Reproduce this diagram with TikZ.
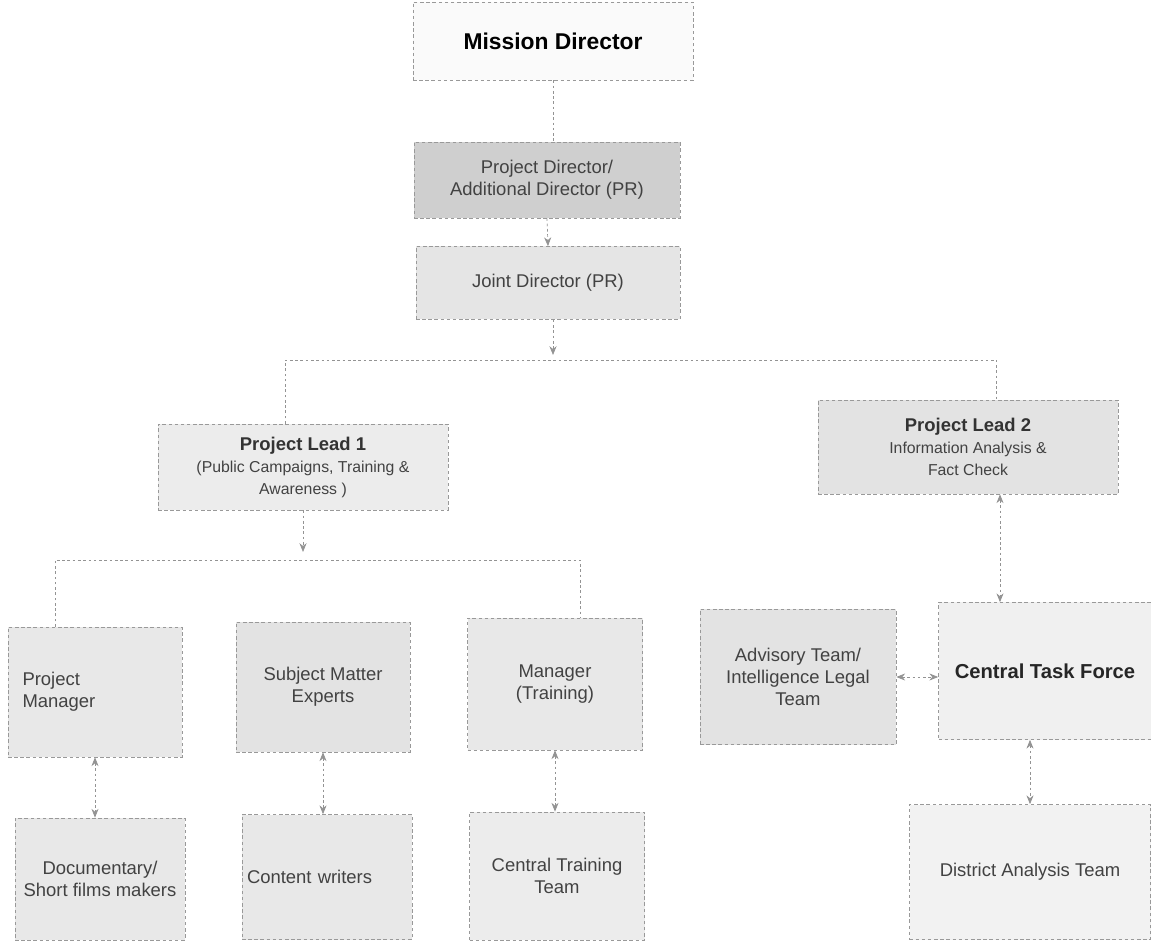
\documentclass[tikz,border=0pt]{standalone}
\usepackage{fontspec}
\setmainfont{Liberation Sans}
\usetikzlibrary{arrows.meta}
\definecolor{inkgray}{HTML}{424242}
\newcommand\subline{\fontsize{9}{11}\selectfont}
\tikzset{
 orgbox/.style={draw=gray!80, dash pattern=on 2pt off 1.5pt, fill=gray!18, align=center, text=inkgray, font=\fontsize{10.5}{12.5}\selectfont, inner sep=2pt},
 link/.style={draw=gray!85, dash pattern=on 1.5pt off 1.5pt, thin},
 tip/.style={-{Stealth[length=5pt,width=4pt]}},
 bitip/.style={{Stealth[length=5pt,width=4pt]}-{Stealth[length=5pt,width=4pt]}},
}
\begin{document}
\begin{tikzpicture}
 \useasboundingbox (0,0) rectangle (23.02,-18.94);

 % top of the chart
 \node[orgbox, fill=gray!4, minimum width=5.6cm, minimum height=1.56cm, text=black, font=\bfseries\fontsize{13}{15}\selectfont] (mission) at (11.06,-0.82) {Mission Director};
 \node[orgbox, fill=gray!38, minimum width=5.32cm, minimum height=1.52cm] (projdir) at (10.94,-3.6) {Project Director/\\Additional Director (PR)};
 \node[orgbox, fill=gray!20, minimum width=5.28cm, minimum height=1.46cm] (jointdir) at (10.96,-5.66) {Joint Director (PR)};

 % the two leads
 \node[orgbox, fill=gray!15, minimum width=5.8cm, minimum height=1.72cm] (lead1) at (6.06,-9.34) {{\bfseries\color{black!80}Project Lead 1}\\{\subline (Public Campaigns, Training \&}\\{\subline Awareness )}};
 \node[orgbox, fill=gray!22, minimum width=6cm, minimum height=1.88cm] (lead2) at (19.36,-8.94) {{\bfseries\color{black!80}Project Lead 2}\\{\subline Information Analysis \&}\\{\subline Fact Check}};

 % teams under lead 1
 \node[orgbox, minimum width=3.48cm, minimum height=2.6cm, text width=2.9cm, align=left] (pm) at (1.9,-13.84) {Project\\Manager};
 \node[orgbox, fill=gray!22, minimum width=3.48cm, minimum height=2.6cm] (sme) at (6.46,-13.74) {Subject Matter\\Experts};
 \node[orgbox, minimum width=3.5cm, minimum height=2.64cm] (mtrain) at (11.1,-13.68) {Manager\\(Training)};
 \node[orgbox, minimum width=3.4cm, minimum height=2.44cm] (docu) at (2.0,-17.58) {Documentary/\\Short films makers};
 \node[orgbox, minimum width=3.4cm, minimum height=2.5cm, text width=3.2cm, align=left] (cwrite) at (6.54,-17.54) {Content writers};
 \node[orgbox, fill=gray!15, minimum width=3.5cm, minimum height=2.56cm] (cttrain) at (11.14,-17.52) {Central Training\\Team};

 % teams under lead 2
 \node[orgbox, fill=gray!22, minimum width=3.92cm, minimum height=2.7cm] (advis) at (15.96,-13.54) {Advisory Team/\\Intelligence Legal\\Team};
 \node[orgbox, fill=gray!12, minimum width=4.26cm, minimum height=2.74cm, text=black!85, font=\bfseries\fontsize{11.5}{13.5}\selectfont] (ctf) at (20.9,-13.42) {Central Task Force};
 \node[orgbox, fill=gray!10, minimum width=4.82cm, minimum height=2.7cm] (district) at (20.6,-17.44) {District Analysis Team};

 % connectors
 \coordinate (busL) at (5.7,-7.2);
 \coordinate (busR) at (19.93,-7.2);
 \coordinate (busL2) at (1.1,-11.2);
 \coordinate (busR2) at (11.6,-11.2);
 \coordinate (ctfup) at (20,0);
 \coordinate (ctfdown) at (20.6,0);

 \draw[link] (mission.south) -- (projdir.north -| mission.south);
 \draw[link,tip] (projdir.south) -- (jointdir.north);
 \draw[link,tip] (jointdir.south -| mission.south) -- (11.06,-7.1);
 \draw[link] (lead1.north -| busL) -- (busL) -- (busR) -- (lead2.north -| busR);

 \draw[link,tip] (lead1.south) -- (6.06,-11.04);
 \draw[link] (pm.north -| busL2) -- (busL2) -- (busR2) -- (mtrain.north -| busR2);

 \draw[link,bitip] (pm.south) -- (pm.south |- docu.north);
 \draw[link,bitip] (sme.south) -- (sme.south |- cwrite.north);
 \draw[link,bitip] (mtrain.south) -- (mtrain.south |- cttrain.north);
 \draw[link,bitip] (advis.east) -- (advis.east -| ctf.west);
 \draw[link,bitip] (lead2.south -| ctfup) -- (ctf.north -| ctfup);
 \draw[link,bitip] (ctf.south -| ctfdown) -- (district.north -| ctfdown);
\end{tikzpicture}
\end{document}
